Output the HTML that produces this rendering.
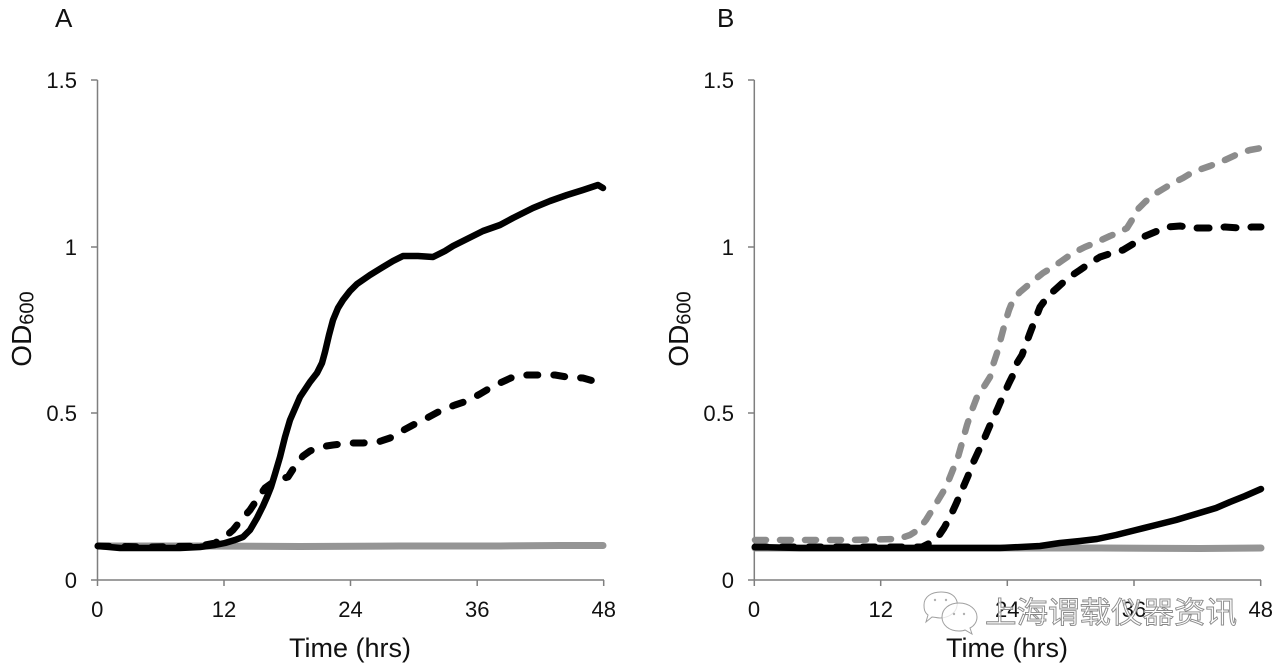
<!DOCTYPE html>
<html>
<head>
<meta charset="utf-8">
<style>
  html, body { margin:0; padding:0; background:#fff; }
  body { width:1280px; height:670px; overflow:hidden; }
  svg { display:block; }
  text { font-family: "Liberation Sans", Arial, sans-serif; fill:#111; }
</style>
</head>
<body>
<svg width="1280" height="670" viewBox="0 0 1280 670" xmlns="http://www.w3.org/2000/svg">
  <rect width="1280" height="670" fill="#fff"/>

  <!-- ================= PANEL A ================= -->
  <text x="55" y="27" font-size="26">A</text>

  <!-- axes A -->
  <g stroke="#7f7f7f" stroke-width="1.5" fill="none">
    <line x1="97.5" y1="80" x2="97.5" y2="580"/>
    <line x1="97.5" y1="580" x2="604" y2="580"/>
    <line x1="91" y1="80" x2="97.5" y2="80"/>
    <line x1="91" y1="247" x2="97.5" y2="247"/>
    <line x1="91" y1="413" x2="97.5" y2="413"/>
    <line x1="91" y1="580" x2="97.5" y2="580"/>
    <line x1="97.5" y1="580" x2="97.5" y2="586"/>
    <line x1="224" y1="580" x2="224" y2="586"/>
    <line x1="350.5" y1="580" x2="350.5" y2="586"/>
    <line x1="477.2" y1="580" x2="477.2" y2="586"/>
    <line x1="603.7" y1="580" x2="603.7" y2="586"/>
  </g>
  <g font-size="22" text-anchor="end">
    <text x="77" y="88">1.5</text>
    <text x="77" y="255">1</text>
    <text x="77" y="421">0.5</text>
    <text x="77" y="588">0</text>
  </g>
  <g font-size="22" text-anchor="middle">
    <text x="97.3" y="617">0</text>
    <text x="224" y="617">12</text>
    <text x="350.5" y="617">24</text>
    <text x="477.2" y="617">36</text>
    <text x="603.7" y="617">48</text>
  </g>
  <text x="350" y="657" font-size="27" text-anchor="middle">Time (hrs)</text>
  <text transform="translate(31,329) rotate(-90)" font-size="28" text-anchor="middle">OD<tspan font-size="20" dy="2.5">600</tspan></text>

  <!-- series A -->
  <polyline fill="none" stroke="#959595" stroke-width="7" stroke-linecap="round"
    points="98,546 200,546 300,546.5 400,546 500,546 560,545.5 603,545.5"/>
  <polyline fill="none" stroke="#000" stroke-width="7" stroke-linejoin="round" stroke-linecap="round" stroke-dasharray="11 16"
    points="98,546 150,547 200,546 215,543 225,537 233,530 241,520 250,510 258,498 265,488 272,483 280,479 288,477 297,463 303,456 310,451 320,447 333,445 350,443 363,443 378,442 390,438 400,432 413,425 427,418 440,411 455,405 467,401 480,394 490,388 500,383 513,377 527,375 540,375 555,375 567,377 583,378 597,382 603,383"/>
  <polyline fill="none" stroke="#000" stroke-width="6.5" stroke-linejoin="round" stroke-linecap="round"
    points="98,546 120,548 150,548 180,548 200,547 215,545 225,543 235,540 243,537 250,530 257,518 263,506 267,497 271,487 275,474 280,457 285,437 290,420 300,397 310,382 317,373 322,363 325,352 329,335 333,320 338,308 343,300 350,291 357,284 370,275 383,267 393,261 403,256 418,256 433,257 445,251 453,246 465,240 483,231 500,225 513,218 533,208 550,201 567,195 583,190 598,185 603,188"/>

  <!-- ================= PANEL B ================= -->
  <text x="717" y="27" font-size="26">B</text>

  <g stroke="#7f7f7f" stroke-width="1.5" fill="none">
    <line x1="754.3" y1="80" x2="754.3" y2="580"/>
    <line x1="754.3" y1="580" x2="1261" y2="580"/>
    <line x1="748" y1="80" x2="754.3" y2="80"/>
    <line x1="748" y1="247" x2="754.3" y2="247"/>
    <line x1="748" y1="413" x2="754.3" y2="413"/>
    <line x1="748" y1="580" x2="754.3" y2="580"/>
    <line x1="754.3" y1="580" x2="754.3" y2="586"/>
    <line x1="880.7" y1="580" x2="880.7" y2="586"/>
    <line x1="1007.3" y1="580" x2="1007.3" y2="586"/>
    <line x1="1134" y1="580" x2="1134" y2="586"/>
    <line x1="1260.7" y1="580" x2="1260.7" y2="586"/>
  </g>
  <g font-size="22" text-anchor="end">
    <text x="734" y="88">1.5</text>
    <text x="734" y="255">1</text>
    <text x="734" y="421">0.5</text>
    <text x="734" y="588">0</text>
  </g>
  <g font-size="22" text-anchor="middle">
    <text x="754" y="617">0</text>
    <text x="880.7" y="617">12</text>
    <text x="1007.3" y="617">24</text>
    <text x="1134" y="617">36</text>
    <text x="1260.7" y="617">48</text>
  </g>
  <text x="1007" y="657" font-size="27" text-anchor="middle">Time (hrs)</text>
  <text transform="translate(688,329) rotate(-90)" font-size="28" text-anchor="middle">OD<tspan font-size="20" dy="2.5">600</tspan></text>

  <!-- series B -->
  <polyline fill="none" stroke="#959595" stroke-width="7" stroke-linecap="round"
    points="755,548 900,548 1000,548 1100,548 1200,548.5 1261,548"/>
  <polyline fill="none" stroke="#8c8c8c" stroke-width="6.5" stroke-linejoin="round" stroke-linecap="round" stroke-dasharray="11 14"
    points="755,540 800,540 850,540 898,539 910,535 918,530 926,520 934,507 940,497 946,487 952,472 958,457 962,443 967,425 972,410 977,397 985,385 990,377 993,365 997,353 1001,338 1005,323 1009,310 1013,300 1020,292 1033,281 1043,273 1053,267 1063,260 1073,253 1085,247 1097,242 1110,236 1120,232 1127,228 1132,220 1137,210 1145,202 1153,195 1163,189 1173,183 1183,178 1193,172 1210,166 1225,160 1240,153 1250,150 1261,148"/>
  <polyline fill="none" stroke="#000" stroke-width="7" stroke-linejoin="round" stroke-linecap="round" stroke-dasharray="12 15"
    points="755,547 850,547 922,547 930,543 938,537 944,528 950,517 956,504 962,490 968,476 973,463 979,450 985,437 991,423 997,410 1003,396 1009,383 1013,375 1017,363 1022,355 1026,344 1030,333 1035,320 1040,307 1048,296 1057,288 1068,278 1080,270 1090,263 1100,257 1112,253 1123,250 1133,244 1143,237 1155,232 1167,227 1180,226 1193,228 1210,228 1225,227 1240,228 1252,227 1261,227"/>
  <polyline fill="none" stroke="#000" stroke-width="6.5" stroke-linejoin="round" stroke-linecap="round"
    points="755,547 800,548 900,548 1000,548 1040,546 1060,543 1080,541 1097,539 1116,535 1136,530 1156,525 1176,520 1196,514 1216,508 1230,502 1245,496 1261,489"/>

  <!-- watermark -->
  <g fill="#fff" fill-opacity="0.75" stroke="#a0a0a0" stroke-width="1">
    <path d="M941,592 C956,592 958,602 957,606 C956,613 948,618 940,618 C937,618 934,617 932,617 L926,622 L928,615 C924,612 924,608 924,605 C924,597 931,592 941,592 Z"/>
    <path d="M959,603 C970,603 977,610 977,617 C977,622 974,626 970,628 L972,634 L965,630 C963,631 961,631 959,631 C949,631 942,625 942,617 C942,609 949,603 959,603 Z"/>
  </g>
  <g fill="#b0b0b0">
    <circle cx="935" cy="600" r="1.2"/>
    <circle cx="946" cy="600" r="1.2"/>
    <circle cx="954" cy="614" r="1.2"/>
    <circle cx="964" cy="614" r="1.2"/>
  </g>
  <text x="985" y="623" font-size="30" textLength="252" lengthAdjust="spacingAndGlyphs"
    style="font-family:'Liberation Sans','Noto Sans CJK SC','WenQuanYi Zen Hei',sans-serif; fill:#fff; fill-opacity:0.75; stroke:#8a8a8a; stroke-width:0.9;">上海谓载仪器资讯</text>
</svg>
</body>
</html>
